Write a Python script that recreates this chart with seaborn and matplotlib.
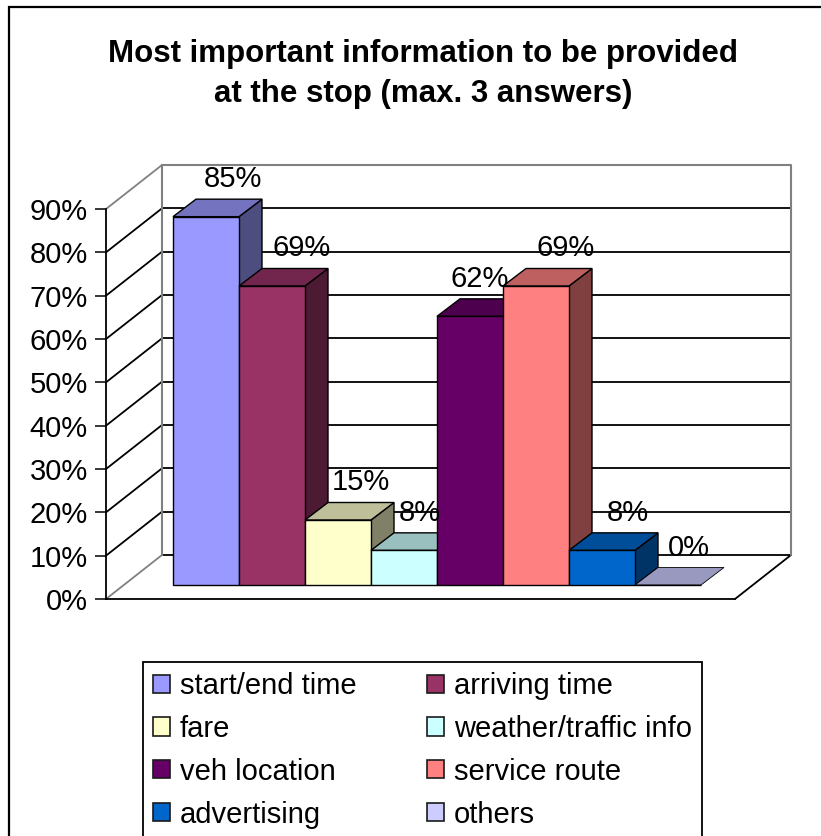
import matplotlib
matplotlib.use("Agg")
import matplotlib.pyplot as plt
from matplotlib.patches import Polygon, Patch, Rectangle
from matplotlib.ticker import PercentFormatter
from matplotlib.colors import to_rgb
import seaborn as sns
import pandas as pd

# Survey answers: most important information at the stop (max. 3 answers)
categories = ["start/end time", "arriving time", "fare", "weather/traffic info",
              "veh location", "service route", "advertising", "others"]
shares = [85, 69, 15, 8, 62, 69, 8, 0]
colors = ["#9999FF", "#993366", "#FFFFCC", "#CCFFFF",
          "#660066", "#FF8080", "#0066CC", "#CCCCFF"]
title_lines = ["Most important information to be provided",
               "at the stop (max. 3 answers)"]
y_ticks = [0, 10, 20, 30, 40, 50, 60, 70, 80, 90]

sns.set_style("white")
plt.rcParams["font.family"] = ["Liberation Sans", "DejaVu Sans"]
plt.rcParams["text.color"] = "black"
plt.rcParams["legend.labelcolor"] = "black"

W, H = 821, 836
fig = plt.figure(figsize=(W / 100, H / 100), dpi=100)
fig.patch.set_facecolor("white")

# front plane of the oblique-projected plot box (pixels)
left_px, right_px, base_px, top_px = 106, 735, 599, 209
ax = fig.add_axes([left_px / W, (H - base_px) / H,
                   (right_px - left_px) / W, (base_px - top_px) / H])

px_x = 66.0                       # pixels per category slot
px_y = (base_px - top_px) / 90.0  # pixels per percent
xmin = -(188.2 - left_px) / px_x
xmax = xmin + (right_px - left_px) / px_x

# depth offsets (data units)
wall_dx, wall_dy = 56 / px_x, 44 / px_y      # back wall
bar_dx, bar_dy = 17.8 / px_x, 14 / px_y      # bar front face behind the front plane
deep_dx, deep_dy = 23 / px_x, 17.5 / px_y    # bar depth

df = pd.DataFrame({"item": categories, "share": shares})
palette = dict(zip(categories, colors))
sns.barplot(data=df, x="item", y="share", hue="item", order=categories,
            hue_order=categories, palette=palette, saturation=1, width=1.0,
            edgecolor="black", linewidth=1.0, legend=False, ax=ax)

ax.set_xlim(xmin, xmax)
ax.set_ylim(0, 90)
ax.set_xticks([])
ax.set_xlabel("")
ax.set_ylabel("")
ax.set_facecolor("none")
ax.set_yticks(y_ticks)
ax.yaxis.set_major_formatter(PercentFormatter(100, decimals=0))
ax.tick_params(axis="y", direction="out", length=8, width=1.1, pad=5,
               labelsize=21, colors="black", left=True)
for side in ("top", "right"):
    ax.spines[side].set_visible(False)
for side in ("left", "bottom"):
    ax.spines[side].set_color("black")
    ax.spines[side].set_linewidth(1.3)
    ax.spines[side].set_zorder(1.5)

gray = "#808080"
bx0, bx1 = xmin + wall_dx, xmax + wall_dx

# back wall gridlines and outline
for v in y_ticks[:-1]:
    ax.plot([bx0, bx1], [v + wall_dy] * 2, color="black", lw=1.3,
            clip_on=False, zorder=1)
ax.plot([bx0, bx0, bx1, bx1], [wall_dy, 90 + wall_dy, 90 + wall_dy, wall_dy],
        color=gray, lw=1.5, clip_on=False, zorder=1.1)

# side wall diagonals
for v in y_ticks:
    c = gray if v in (0, 90) else "black"
    ax.plot([xmin, bx0], [v, v + wall_dy], color=c, lw=1.3,
            clip_on=False, zorder=1)

# floor right edge
ax.plot([xmax, bx1], [0, wall_dy], color="black", lw=1.3, clip_on=False, zorder=1)

# bar faces: shift front faces back, then add top and side faces
def shade(c, f):
    r, g, b = to_rgb(c)
    return (r * f, g * f, b * f)

for p in ax.patches:
    i = int(round(p.get_x() + p.get_width() / 2))
    p.set_x(p.get_x() + bar_dx)
    p.set_y(p.get_y() + bar_dy)
    p.set_zorder(3 + i * 0.1 + 0.05)
    p.set_clip_on(False)

for i, (v, c) in enumerate(zip(shares, colors)):
    x0 = i - 0.5 + bar_dx
    x1 = i + 0.5 + bar_dx
    y0 = bar_dy
    y1 = v + bar_dy
    top = Polygon([(x0, y1), (x1, y1), (x1 + deep_dx, y1 + deep_dy),
                   (x0 + deep_dx, y1 + deep_dy)], closed=True,
                  facecolor=shade(c, 0.75), edgecolor="black",
                  lw=1.0 if v > 0 else 0.6,
                  clip_on=False, zorder=3 + i * 0.1 + 0.02)
    ax.add_patch(top)
    if v > 0:
        side = Polygon([(x1, y0), (x1 + deep_dx, y0 + deep_dy),
                        (x1 + deep_dx, y1 + deep_dy), (x1, y1)], closed=True,
                       facecolor=shade(c, 0.5), edgecolor="black", lw=1.0,
                       clip_on=False, zorder=3 + i * 0.1 + 0.01)
        ax.add_patch(side)

# value labels above each bar
label_dx_px = [60, 63, 56, 49, 43, 63, 59, 54]
for i, v in enumerate(shares):
    lx = i - 0.5 + bar_dx + label_dx_px[i] / px_x
    ly = v + bar_dy + 29.5 / px_y
    ax.text(lx, ly, f"{v}%", ha="center", va="baseline", fontsize=21,
            color="black", zorder=10, clip_on=False)

# title
for k, line in enumerate(title_lines):
    fig.text(423 / W, 1 - (62 + 40 * k) / H, line, ha="center", va="baseline",
             fontsize=22.5, fontweight="bold", color="black")

# legend (row-major reading order across two columns)
handles = [Patch(facecolor=c, edgecolor="#1a1a1a", linewidth=1.2, label=n)
           for n, c in zip(categories, colors)]
ordered = handles[0::2] + handles[1::2]
leg = fig.legend(handles=ordered, loc="upper left", ncol=2,
                 bbox_to_anchor=(143 / W, 1 - 662 / H), borderaxespad=0,
                 fontsize=21, handlelength=0.58, handleheight=0.58,
                 handletextpad=0.34, borderpad=0.34, columnspacing=2.43,
                 labelspacing=0.51, fancybox=False, frameon=True)
leg.get_frame().set_edgecolor("black")
leg.get_frame().set_linewidth(1.3)
leg.get_frame().set_alpha(1)
for t in leg.get_texts():
    t.set_color("black")

# chart area border
fig.add_artist(Rectangle((9 / W, -0.1), 2.0, 1.1 - 7 / H, transform=fig.transFigure,
                         fill=False, edgecolor="black", linewidth=1.6))

fig.savefig("out.png", dpi=100, facecolor="white")
